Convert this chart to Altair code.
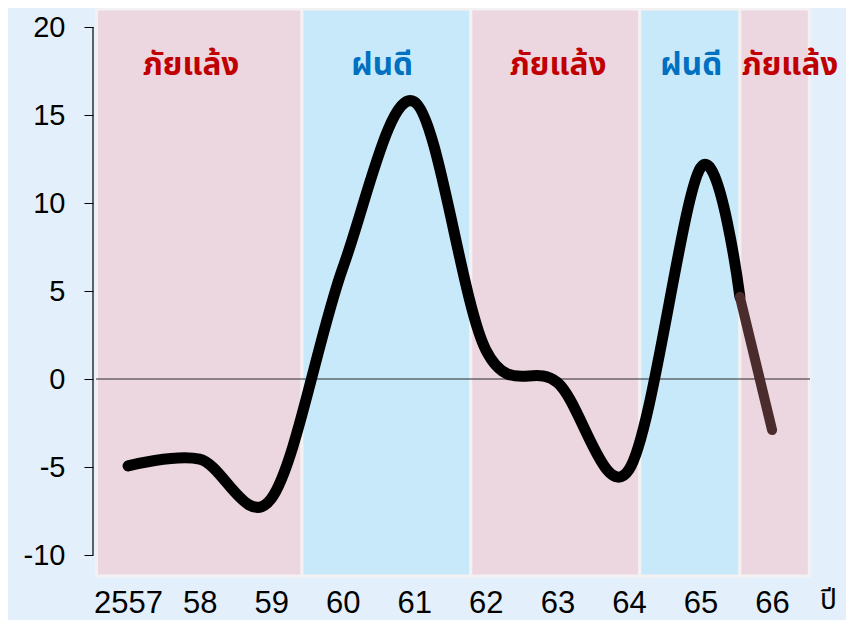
import altair as alt
import pandas as pd

# ---- data ----
years = [2557, 2558, 2559, 2560, 2561, 2562, 2563, 2564, 2565, 2565.55]
values = [-4.94, -4.55, -6.8, 6.3, 15.75, 1.65, -0.2, -5.15, 12.0, 4.67]

proj_years = [2565.55, 2566]
proj_values = [4.67, -2.9]

tick_years = [2557, 2558, 2559, 2560, 2561, 2562, 2563, 2564, 2565, 2566]
tick_labels = ["2557", "58", "59", "60", "61", "62", "63", "64", "65", "66"]
y_ticks = [-10, -5, 0, 5, 10, 15, 20]

band_start = [2556.56, 2559.43, 2561.79, 2564.15, 2565.55]
band_end = [2559.43, 2561.79, 2564.15, 2565.55, 2566.52]
band_label = ["ภัยแล้ง", "ฝนดี", "ภัยแล้ง", "ฝนดี", "ภัยแล้ง"]
band_kind = ["dry", "wet", "dry", "wet", "dry"]
label_x = [2557.88, 2560.55, 2563.01, 2564.87, 2566.25]
label_y = [17.27, 17.27, 17.27, 17.27, 17.27]

x_domain = [2556.51, 2566.53]
y_domain = [-11.25, 21.08]

# ---- tables ----
line_df = pd.DataFrame({"year": years, "value": values})
proj_df = pd.DataFrame({"year": proj_years, "value": proj_values})
band_df = pd.DataFrame({"start": band_start, "end": band_end, "kind": band_kind,
                        "label": band_label, "lx": label_x, "ly": label_y})

W, H = 717, 569
THAI = "Noto Sans Thai, Noto Sans Thai UI, Noto Sans, sans-serif"

label_expr = "[" + ",".join("'%s'" % t for t in tick_labels) + "][round(datum.value) - 2557]"

xs = alt.Scale(domain=x_domain, nice=False, zero=False)
ys = alt.Scale(domain=y_domain, nice=False, zero=False)

x_axis = alt.Axis(values=tick_years, labelExpr=label_expr, domain=False, ticks=False,
                  grid=False, labelFontSize=31, labelFont="Liberation Sans",
                  labelColor="#000000", labelPadding=11, labelFlush=False,
                  title="ปี", titleFontSize=28, titleFontWeight="normal",
                  titleColor="#000000", titleX=735, titleY=31, titleAlign="center",
                  titleBaseline="alphabetic", titleFont=THAI)
y_axis = alt.Axis(values=y_ticks, domain=False, grid=False, ticks=True, tickSize=9,
                  tickColor="#000000", tickWidth=1, labelFontSize=29,
                  labelExpr="'' + datum.value",
                  labelFont="Liberation Sans", labelColor="#000000", labelPadding=19,
                  title=None)

color_scale = alt.Scale(domain=["dry", "wet"], range=["#ecd6e0", "#c8e9fa"])
text_scale = alt.Scale(domain=["dry", "wet"], range=["#c00000", "#0070c0"])

bands = alt.Chart(band_df).mark_rect(stroke="#f3f1f2", strokeWidth=3).encode(
    x=alt.X("start:Q", scale=xs, axis=x_axis),
    x2="end:Q",
    y=alt.value(1),
    y2=alt.value(H - 1),
    fill=alt.Fill("kind:N", scale=color_scale, legend=None),
)

zero = alt.Chart(pd.DataFrame({"z": [0]})).mark_rule(color="#2a2a2a", strokeWidth=1.2).encode(
    y=alt.Y("z:Q", scale=ys, axis=y_axis),
    x=alt.value(3),
    x2=alt.value(W),
)

yline = alt.Chart(pd.DataFrame({"a": [y_ticks[0]], "b": [y_ticks[-1]]})).mark_rule(
    color="#000000", strokeWidth=1.2).encode(
    y="a:Q", y2="b:Q", x=alt.value(0))

texts = alt.Chart(band_df).mark_text(fontSize=31.5, fontWeight="bold", font=THAI,
                                     baseline="alphabetic", align="center").encode(
    x="lx:Q", y="ly:Q", text="label:N",
    color=alt.Color("kind:N", scale=text_scale, legend=None),
)

line = alt.Chart(line_df).mark_line(color="#000000", strokeWidth=11, interpolate="cardinal",
                                    strokeCap="round", strokeJoin="round").encode(
    x="year:Q", y="value:Q")

proj = alt.Chart(proj_df).mark_line(color="#4b2c2c", strokeWidth=10, interpolate="linear",
                                    strokeCap="round").encode(
    x="year:Q", y="value:Q")

chart = alt.layer(bands, zero, yline, texts, line, proj).resolve_scale(
    color="independent"
).properties(
    width=W, height=H,
    background="#e3f0fb",
    padding={"left": 85, "top": 0, "right": 36, "bottom": 45},
    autosize=alt.AutoSizeParams(type="none"),
).configure_view(stroke=None)

chart.save("out.html", embed_options={"renderer": "svg", "actions": False})
